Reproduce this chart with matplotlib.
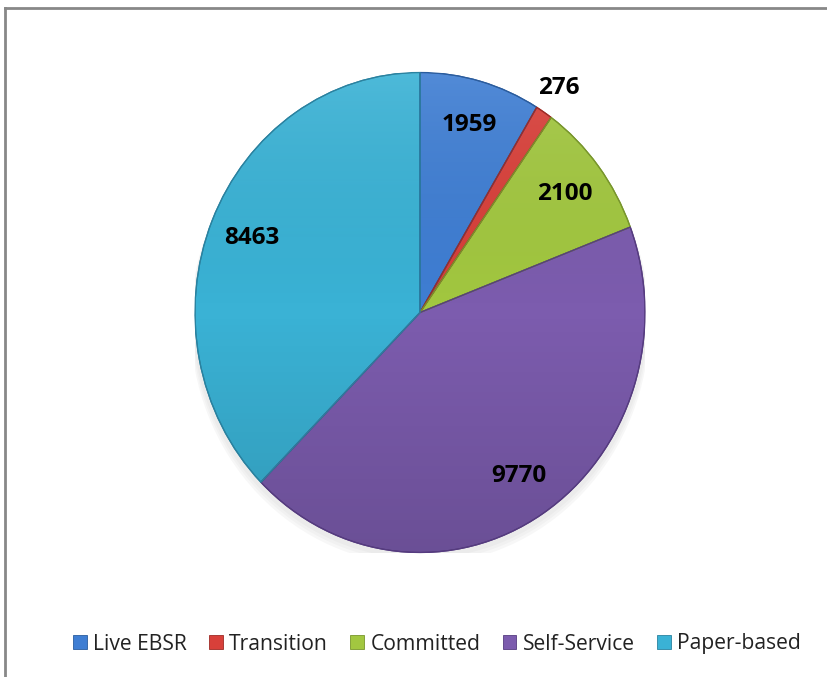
import matplotlib
matplotlib.use("Agg")
import matplotlib.pyplot as plt
from matplotlib.lines import Line2D
from matplotlib.patches import Patch, Ellipse, Wedge
from matplotlib.colors import LinearSegmentedColormap
import numpy as np

categories = ["Live EBSR", "Transition", "Committed", "Self-Service", "Paper-based"]
values = [1959, 276, 2100, 9770, 8463]
value_labels = ["1959", "276", "2100", "9770", "8463"]
colors = ["#3F7ED3", "#D8403A", "#A2C740", "#7C5CAE", "#3AB2D5"]
edge_colors = ["#2A5C9E", "#9E2A25", "#78962C", "#563C80", "#2A82A0"]

W, H = 827, 677
fig = plt.figure(figsize=(W / 100, H / 100), dpi=100)
fig.patch.set_facecolor("white")

# pie area (slightly elliptical, as in the reference)
cx, cy, rx, ry = 420, 312.5, 225, 240
ax = fig.add_axes([(cx - rx) / W, 1 - (cy + ry) / H, 2 * rx / W, 2 * ry / H])

# soft shadow
for i, a in enumerate([0.025, 0.025, 0.03]):
    ax.add_patch(Ellipse((0.0, -0.025 - 0.008 * i), 2.02 + 0.01 * i, 2.0 + 0.01 * i,
                         facecolor="black", alpha=a, edgecolor="none", zorder=0))

wedges, _ = ax.pie(values, colors=colors, startangle=90, counterclock=False,
                   radius=1.0, center=(0, 0),
                   wedgeprops=dict(linewidth=0.9))
for w, ec in zip(wedges, edge_colors):
    w.set_edgecolor(ec)
    w.set_zorder(2)

# subtle vertical shading overlay clipped to pie
grad = np.linspace(1, 0, 256).reshape(-1, 1)
cmap = LinearSegmentedColormap.from_list("shade", [(0, 0, 0, 0.14), (0, 0, 0, 0.0), (1, 1, 1, 0.10)])
for w in wedges:
    im = ax.imshow(grad, extent=(-1, 1, -1, 1), cmap=cmap, aspect="auto",
                   origin="upper", zorder=3, vmin=0, vmax=1)
    im.set_clip_path(w)
for w, ec in zip(wedges, edge_colors):
    ax.add_patch(Wedge(w.center, w.r, w.theta1, w.theta2,
                       facecolor="none", edgecolor=ec, linewidth=0.9, zorder=4))

for i, (w, lab) in enumerate(zip(wedges, value_labels)):
    mid = np.deg2rad((w.theta1 + w.theta2) / 2)
    r = 1.12 if values[i] / sum(values) < 0.03 else 0.81
    ax.text(r * np.cos(mid), r * np.sin(mid), lab, ha="center", va="center",
            fontsize=17.5, fontweight="bold", family=["Open Sans", "DejaVu Sans"],
            color="black", zorder=5)

ax.set_aspect("auto")
ax.set_xlim(-1, 1)
ax.set_ylim(-1, 1)
ax.axis("off")

# legend
handles = [Patch(facecolor=c, edgecolor=e, linewidth=0.6) for c, e in zip(colors, edge_colors)]
leg = fig.legend(handles, categories, loc="center", bbox_to_anchor=(437 / W, 1 - 644 / H),
                 ncol=5, frameon=False, handlelength=0.65, handleheight=0.65,
                 handletextpad=0.3, columnspacing=1.05,
                 prop=dict(family=["Open Sans", "DejaVu Sans"], size=15.2))
for t in leg.get_texts():
    t.set_color("#222222")

# chart border (top and left visible)
fig.add_artist(Line2D([5 / W, 5 / W], [0, 1 - 8 / H], transform=fig.transFigure,
                      color="#888888", linewidth=2))
fig.add_artist(Line2D([5 / W, 1], [1 - 8 / H, 1 - 8 / H], transform=fig.transFigure,
                      color="#888888", linewidth=2))

fig.savefig("out.png", dpi=100)
